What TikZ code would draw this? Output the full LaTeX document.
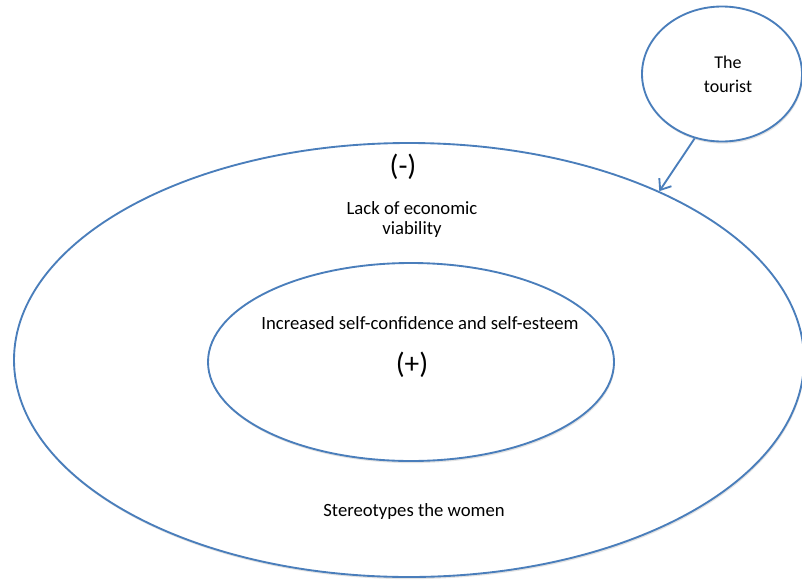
\documentclass[tikz,border=0pt]{standalone}
\usepackage{fontspec}
\setmainfont{Carlito}
\usetikzlibrary{shapes.geometric,arrows.meta,shadows}
\definecolor{ringblue}{RGB}{74,126,187}
\begin{document}
\begin{tikzpicture}[x=0.75pt,y=-0.75pt,
  ring/.style={ellipse,draw=ringblue,line width=1.4pt,fill=white,inner sep=0pt,
    drop shadow={opacity=0.22,shadow xshift=0.6pt,shadow yshift=-1.6pt}},
  label/.style={inner sep=0pt,align=center,font=\fontsize{14}{14.4}\selectfont},
  sign/.style={inner sep=0pt,font=\fontsize{22}{24}\selectfont},
  link/.style={draw=ringblue,line width=1.4pt,-{Straight Barb[length=7pt,width=11pt,line width=1.4pt]}}]
  \useasboundingbox (0,0) rectangle (802,582);
  % outer ring, inner ring and the tourist circle
  \node[ring,minimum width=790pt*0.75,minimum height=434pt*0.75] (outer) at (409,360) {};
  \node[ring,minimum width=406pt*0.75,minimum height=198pt*0.75] (inner) at (411,362) {};
  \node[ring,minimum width=160pt*0.75,minimum height=135pt*0.75] (tourist) at (722,74) {};
  % texts
  \node[label,font=\fontsize{13.5}{18}\selectfont] (tt) at (728,74) {The\\ tourist};
  \node[sign] (minus) at (403,167) {(-)};
  \node[label] (lack) at (412,219.5) {Lack of economic\\ viability};
  \node[label] (incr) at (420,323) {Increased self-confidence and self-esteem};
  \node[sign] (plus) at (412,365) {(+)};
  \node[label] (stereo) at (414,512) {Stereotypes the women};
  % influence of the tourist
  \draw[link] (tourist.247) -- (outer.34.6);
\end{tikzpicture}
\end{document}
